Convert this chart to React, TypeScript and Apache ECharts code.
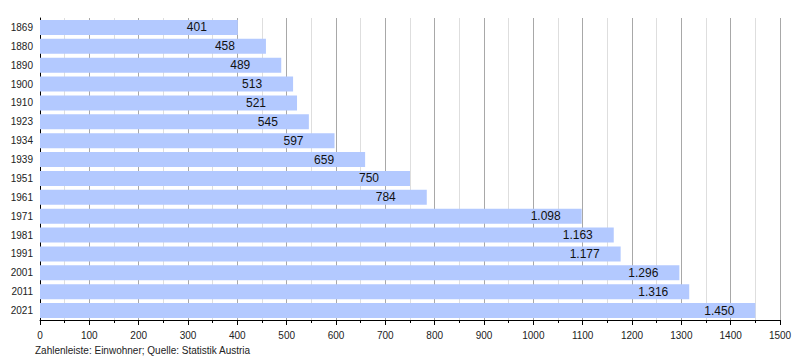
import React, { useEffect, useRef } from "react";
import * as echarts from "echarts";

const years = ["1869", "1880", "1890", "1900", "1910", "1923", "1934", "1939", "1951", "1961", "1971", "1981", "1991", "2001", "2011", "2021"];
const population = [401, 458, 489, 513, 521, 545, 597, 659, 750, 784, 1098, 1163, 1177, 1296, 1316, 1450];
const footer = "Zahlenleiste: Einwohner; Quelle: Statistik Austria";

const fmt = (v: number) => {
  const s = String(Math.round(v));
  return s.replace(/\B(?=(\d{3})+(?!\d))/g, ".");
};

export default function App() {
  const ref = useRef<HTMLDivElement>(null);
  useEffect(() => {
    const chart = echarts.init(ref.current!, undefined, { renderer: "svg" });
    chart.setOption({
      animation: false,
      textStyle: { fontFamily: "Liberation Sans, Arial, sans-serif" },
      grid: { left: 40, right: 20, top: 18, bottom: 40 },
      title: {
        text: footer,
        left: 30,
        top: 340,
        textStyle: { fontSize: 10, fontWeight: "normal", color: "#222", fontFamily: "Liberation Sans, Arial, sans-serif" },
      },
      xAxis: {
        type: "value",
        min: 0,
        max: 1500,
        interval: 100,
        axisLine: { show: true, lineStyle: { color: "#000", width: 1 } },
        axisTick: { show: true, length: 5, lineStyle: { color: "#000" } },
        minorTick: { show: true, splitNumber: 2, length: 3, lineStyle: { color: "#000" } },
        axisLabel: { fontSize: 10, color: "#222", margin: 10, formatter: (v: number) => String(v) },
        splitLine: { show: true, lineStyle: { color: "#a8a8a8", width: 1 } },
        minorSplitLine: { show: true, lineStyle: { color: "#dedede", width: 1 } },
      },
      yAxis: {
        type: "category",
        data: years,
        inverse: true,
        axisLine: { show: true, lineStyle: { color: "#000", width: 1 } },
        axisTick: { show: false },
        axisLabel: { fontSize: 10, color: "#222", margin: 7 },
        splitLine: { show: false },
      },
      series: [
        {
          type: "bar",
          data: population,
          barWidth: 15,
          itemStyle: { color: "#b3c9ff" },
          label: {
            show: true,
            position: ["100%", "50%"],
            offset: [-51, 0],
            align: "left",
            verticalAlign: "middle",
            fontSize: 12,
            color: "#111",
            formatter: (p: any) => fmt(p.value),
          },
        },
      ],
    });
    return () => chart.dispose();
  }, []);
  return <div ref={ref} style={{ width: 800, height: 360, position: "absolute", left: 0, top: 0 }} />;
}
